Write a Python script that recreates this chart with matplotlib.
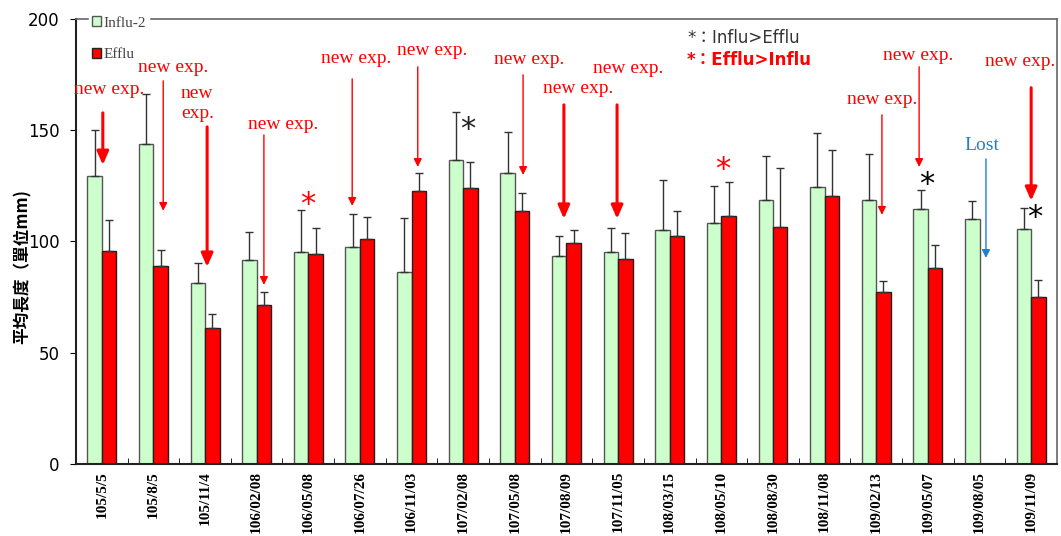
import matplotlib
matplotlib.use("Agg")
import matplotlib.pyplot as plt
import numpy as np

# --- data ---
dates = ["105/5/5", "105/8/5", "105/11/4", "106/02/08", "106/05/08", "106/07/26",
         "106/11/03", "107/02/08", "107/05/08", "107/08/09", "107/11/05", "108/03/15",
         "108/05/10", "108/08/30", "108/11/08", "109/02/13", "109/05/07", "109/08/05",
         "109/11/09"]
influ_mean = [129.4, 143.7, 81.5, 91.9, 95.2, 97.7, 86.3, 136.6, 131.0, 93.4, 95.2,
              105.1, 108.4, 118.8, 124.4, 118.8, 114.8, 110.3, 105.4]
influ_err = [20.8, 22.8, 9.0, 12.3, 18.9, 14.6, 24.2, 21.7, 18.3, 9.0, 10.8,
             22.5, 16.6, 19.8, 24.3, 20.7, 8.5, 8.0, 9.5]
efflu_mean = [95.6, 88.9, 61.0, 71.4, 94.4, 101.0, 122.6, 124.0, 113.6, 99.1, 92.0,
              102.5, 111.6, 106.7, 120.6, 77.2, 88.3, np.nan, 75.2]
efflu_err = [14.1, 7.2, 6.4, 5.8, 11.6, 10.2, 8.4, 11.7, 8.4, 6.0, 11.7,
             11.3, 15.3, 26.4, 20.3, 5.2, 10.2, np.nan, 7.4]

# "new exp." notes: text position, arrow x, arrow top, arrow tip, bold arrow
notes_x = [0.14, 1.38, 1.53, 3.51, 4.92, 6.40, 8.27, 9.22, 10.19, 15.11, 15.81, 17.78]
notes_y = [168.2, 178.1, 161.9, 152.4, 182.1, 185.7, 181.7, 168.6, 177.6, 163.7, 183.5, 180.8]
arrow_x = [0.02, 1.19, 2.04, 3.14, 4.85, 6.12, 8.16, 8.95, 9.98, 15.11, 15.83, 18.0]
arrow_top = [157.8, 172.2, 151.5, 147.9, 173.1, 178.5, 174.9, 161.4, 161.4, 156.9, 178.5, 169.1]
arrow_tip = [134.4, 113.8, 88.6, 80.5, 116.0, 133.5, 129.9, 110.2, 110.2, 112.0, 133.5, 118.3]
arrow_bold = [True, False, True, False, False, False, False, True, True, False, False, True]

# significance stars
star_x = [3.99, 7.09, 12.03, 15.98, 18.06]
star_y = [116.5, 150.5, 132.5, 125.5, 110.8]
star_c = ["red", "#222222", "red", "black", "black"]

serif = "Liberation Serif"

fig = plt.figure(figsize=(10.61, 5.36), dpi=100)
ax = fig.add_axes([0.0716, 0.1343, 0.9246, 0.8303])

x = np.arange(len(dates))
w = 0.28
ax.bar(x - w / 2, influ_mean, w, color="#ccffcc", edgecolor="#555555", linewidth=1.0,
       label="Influ-2", zorder=2)
ax.bar(x + w / 2, efflu_mean, w, color="#ff0000", edgecolor="#222222", linewidth=1.0,
       label="Efflu", zorder=2)
ax.errorbar(x - w / 2, influ_mean, yerr=[np.zeros(len(x)), influ_err], fmt="none",
            ecolor="#333333", elinewidth=1.0, capsize=3, capthick=1.0, zorder=3)
ax.errorbar(x + w / 2, efflu_mean, yerr=[np.zeros(len(x)), efflu_err], fmt="none",
            ecolor="#333333", elinewidth=1.0, capsize=3, capthick=1.0, zorder=3)

bold_arrow = dict(arrowstyle="-|>,head_length=0.8,head_width=0.35", color="red",
                  lw=2.2, mutation_scale=10, shrinkA=0, shrinkB=0)
thin_arrow = dict(arrowstyle="-|>,head_length=0.6,head_width=0.3", color="red",
                  lw=1.0, mutation_scale=8, shrinkA=0, shrinkB=0)

for i in range(len(notes_x)):
    if i == 2:
        ax.text(notes_x[i], notes_y[i], "new\nexp.", color="red", fontsize=14,
                family=serif, ha="left", va="center", linespacing=1.2, zorder=6)
    else:
        ax.text(notes_x[i], notes_y[i], "new exp.", color="red", fontsize=14,
                family=serif, ha="center", va="center", zorder=6)
    ax.annotate("", xy=(arrow_x[i], arrow_tip[i]), xytext=(arrow_x[i], arrow_top[i]),
                arrowprops=bold_arrow if arrow_bold[i] else thin_arrow, zorder=4)

# lost sample
ax.text(17.05, 143.0, "Lost", color="#1f7fcf", fontsize=14, family=serif,
        ha="center", va="center", zorder=6)
lost_arrow = dict(thin_arrow, color="#1f7fcf")
ax.annotate("", xy=(17.125, 92.6), xytext=(17.125, 137.1), arrowprops=lost_arrow,
            zorder=4)

for sx, sy, sc in zip(star_x, star_y, star_c):
    ax.text(sx, sy, "*", color=sc, fontsize=22, family="DejaVu Sans",
            ha="center", va="center", zorder=6)

# star key
ax.text(0.623, 0.957, "*：Influ>Efflu", transform=ax.transAxes, color="#333333",
        fontsize=12, family=["DejaVu Sans", "Noto Sans CJK TC"], va="center")
ax.text(0.623, 0.908, "*：Efflu>Influ", transform=ax.transAxes, color="red",
        fontsize=12, fontweight="bold", family=["DejaVu Sans", "Noto Sans CJK TC"],
        va="center")

ax.set_xlim(-0.5, len(dates) - 0.5)
ax.set_ylim(0, 200)
ax.set_yticks([0, 50, 100, 150, 200])
ax.tick_params(axis="y", direction="out", length=4, labelsize=12, pad=8)
ax.set_xticks(x)
ax.set_xticklabels(dates, rotation=90, fontsize=11, fontweight="bold", family=serif)
ax.tick_params(axis="x", length=0, pad=5)
ax.set_xticks(np.arange(0.5, len(dates) - 0.5), minor=True)
ax.tick_params(axis="x", which="minor", direction="in", length=4)

ax.set_ylabel("平均長度（單位mm)", family="Noto Sans CJK TC", fontweight="bold",
              fontsize=12)
ax.yaxis.set_label_coords(-0.045, 0.443)

for s in ["left", "bottom"]:
    ax.spines[s].set_color("#222222")
    ax.spines[s].set_linewidth(1.5)
for s in ["top", "right"]:
    ax.spines[s].set_color("#666666")
    ax.spines[s].set_linewidth(1.2)

leg = ax.legend(loc="upper left", bbox_to_anchor=(0.005, 1.03), frameon=True,
                prop={"family": serif, "size": 11}, handlelength=0.6, handleheight=0.6,
                handletextpad=0.2, labelspacing=1.2, borderpad=0.2, fancybox=False)
leg.get_frame().set_edgecolor("white")
leg.get_frame().set_facecolor("white")
leg.get_frame().set_alpha(1.0)
leg.set_zorder(3.5)
for t in leg.get_texts():
    t.set_color("#444444")

fig.savefig("out.png", dpi=100)
